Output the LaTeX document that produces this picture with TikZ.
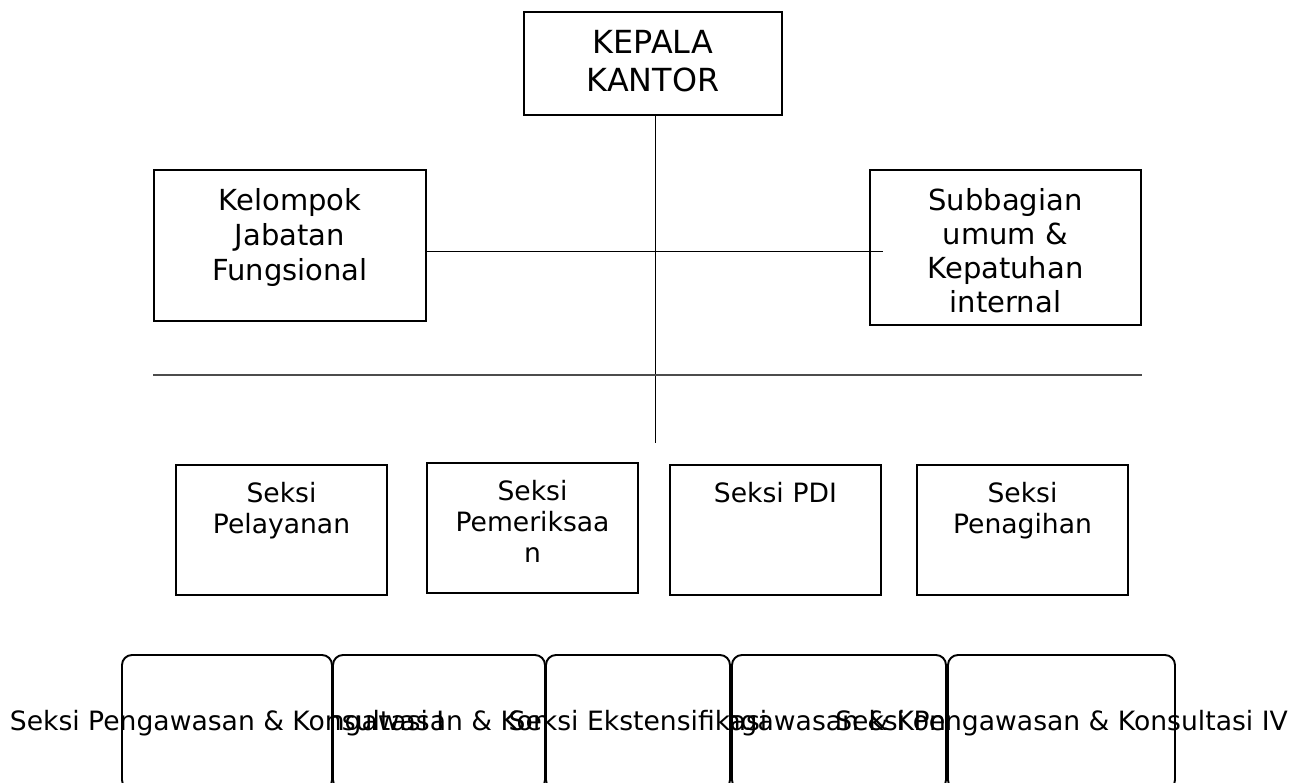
\documentclass[tikz,border=0pt]{standalone}
\usepackage{fontspec}
\setmainfont{DejaVu Sans}
\begin{document}
\begin{tikzpicture}[x=1pt, y=-1pt]
		\tikzstyle{unit} = [draw, line width=1.9pt, inner sep=0pt, outer sep=0pt, align=center, anchor=north west]
		\tikzstyle{desk} = [draw, fill=white, line width=1.9pt, rounded corners=10pt, inner sep=0pt, outer sep=0pt, anchor=north west, minimum height=135pt, text height=75pt, text depth=60pt]
		\tikzstyle{link} = [line width=0.9pt]
		\useasboundingbox (0,0) rectangle (1304,782);

		% Top: head of office
		\node[unit, text width=258pt, text height=41pt, text depth=62pt, font=\fontsize{31.8}{38}\selectfont] (kk) at (524,12) {KEPALA\\KANTOR};

		% Staff boxes
		\node[unit, text width=272pt, text height=40pt, text depth=111pt, font=\fontsize{29}{35}\selectfont] (kjf) at (154,170) {Kelompok\\Jabatan\\Fungsional};
		\node[unit, text width=271pt, text height=40pt, text depth=115pt, font=\fontsize{29}{34.3}\selectfont] (suk) at (870,170) {Subbagian\\umum \&\\Kepatuhan\\internal};

		% Sections
		\tikzstyle{sect} = [unit, text width=211pt, text height=37pt, text depth=93pt, font=\fontsize{26.6}{31}\selectfont]
		\node[sect] (spl) at (176,465) {Seksi\\Pelayanan};
		\node[sect, text height=37pt, text depth=93pt] (spm) at (427,463) {Seksi\\Pemeriksaa\\n};
		\node[sect] (spdi) at (670,465) {Seksi PDI};
		\node[sect] (spn) at (917,465) {Seksi\\Penagihan};

		% Lower row, text runs past the boxes (drawn back to front)
		\tikzset{every node/.append style={font=\fontsize{26.6}{30.5}\selectfont}}
		\node[desk, minimum width=212pt] (pk2) at (333,655) {\makebox[0pt]{Seksi Pengawasan \& Konsultasi II}};
		\node[desk, minimum width=214pt] (pk3) at (732,655) {\makebox[0pt]{Seksi Pengawasan \& Konsultasi III}};
		\node[desk, minimum width=210pt] (pk1) at (122,655) {\makebox[0pt]{Seksi Pengawasan \& Konsultasi I}};
		\node[desk, minimum width=184pt] (ekst) at (546,655) {\makebox[0pt]{Seksi Ekstensifikasi}};
		\node[desk, minimum width=227pt] (pk4) at (948,655) {\makebox[0pt]{Seksi Pengawasan \& Konsultasi IV}};

		% Connectors
		\coordinate (vend) at (655,443);
		\coordinate (hjoin) at (883,251);
		\coordinate (barL) at (153,375);
		\coordinate (barR) at (1142,375);
		\draw[link] (kk.south -| vend) -- (vend);
		\draw[link] (kjf.east |- hjoin) -- (hjoin);
		\draw[line width=1.3pt, black!70] (barL) -- (barR);

		\end{tikzpicture}
\end{document}
